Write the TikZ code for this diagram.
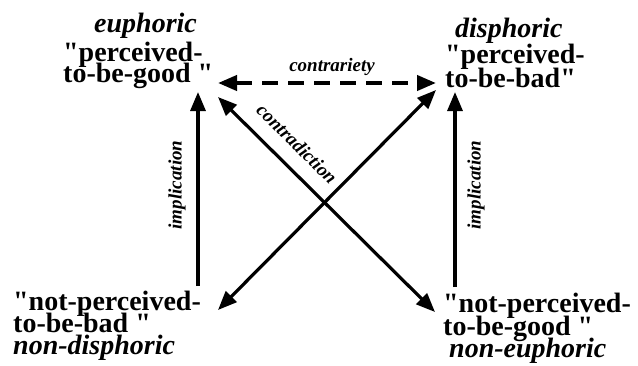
\documentclass[tikz,border=0pt]{standalone}
\usepackage{fontspec}
\setmainfont{Liberation Serif}[Ligatures=TeXOff]
\usetikzlibrary{arrows.meta}
\tikzset{
  big/.style={font=\fontsize{28}{28}\selectfont\bfseries, inner sep=0pt, anchor=base west},
  bigit/.style={font=\fontsize{28}{28}\selectfont\bfseries\itshape, inner sep=0pt, anchor=base west},
  lbl/.style={font=\fontsize{19}{19}\selectfont\bfseries\itshape, inner sep=0pt},
  tip/.style={-{Triangle[length=19pt,width=15pt]}},
  tips/.style={{Triangle[length=19pt,width=15pt]}-{Triangle[length=19pt,width=15pt]}},
  conn/.style={line width=3.2pt},
  dconn/.style={line width=4pt, dash pattern=on 16pt off 10pt}
}
\begin{document}
\begin{tikzpicture}[x=1pt,y=-1pt]
\useasboundingbox (0,0) rectangle (638,365);
% top-left
\node[bigit] (tlA) at (94,32) {euphoric};
\node[big] (tlB) at (63,61) {"perceived-};
\node[big] (tlC) at (63,82) {to-be-good "};
% top-right
\node[bigit] (trA) at (455,37) {disphoric};
\node[big] (trB) at (445,63) {"perceived-};
\node[big] (trC) at (445,87) {to-be-bad"};
% bottom-left
\node[big] (blA) at (13,310) {"not-perceived-};
\node[big] (blB) at (13,332) {to-be-bad "};
\node[bigit] (blC) at (13,354) {non-disphoric};
% bottom-right
\node[big] (brA) at (443,312) {"not-perceived-};
\node[big] (brB) at (443,335) {to-be-good "};
\node[bigit] (brC) at (449,357) {non-euphoric};
% connector end points
\coordinate (cL) at (218,83);
\coordinate (cR) at (436,83);
\coordinate (vLt) at (198,92);
\coordinate (vLb) at (198,286);
\coordinate (vRt) at (455,92);
\coordinate (vRb) at (455,287);
\coordinate (dAt) at (218,97);
\coordinate (dAb) at (435,312);
\coordinate (dBt) at (436,90);
\coordinate (dBb) at (218,310);
% connectors
\draw[dconn,tips] (cL) -- (cR);
\draw[conn,tip] (vLb) -- (vLt);
\draw[conn,tip] (vRb) -- (vRt);
\draw[conn,tips] (dAt) -- (dAb);
\draw[conn,tips] (dBb) -- (dBt);
% labels
\node[lbl] (lc) at (332,67) {contrariety};
\node[lbl, rotate=-44.7] (ld) at (297,144) {contradiction};
\node[lbl, rotate=90] (li1) at (177,185) {implication};
\node[lbl, rotate=90] (li2) at (476,185) {implication};
\end{tikzpicture}
\end{document}
